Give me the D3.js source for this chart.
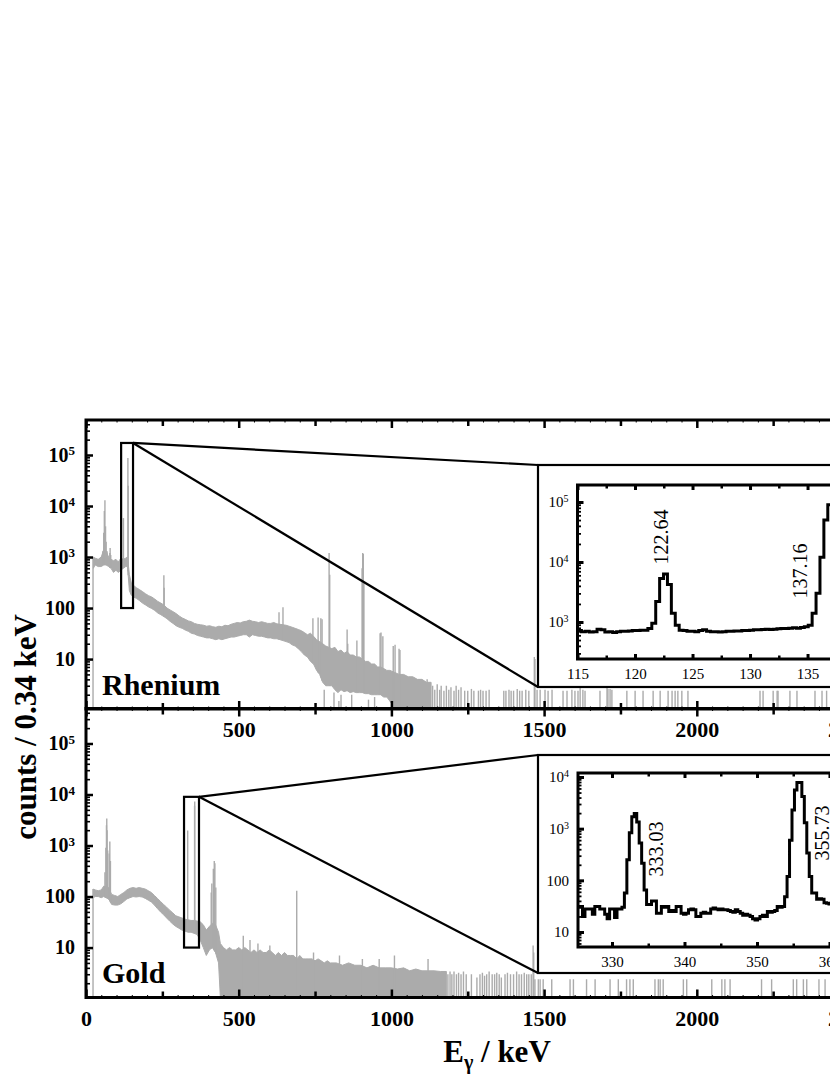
<!DOCTYPE html>
<html><head><meta charset="utf-8">
<script src="https://cdn.jsdelivr.net/npm/d3@7"></script>
<style>
html,body{margin:0;padding:0;background:#fff;}
svg{display:block;overflow:hidden;}
</style></head><body>
<svg id="chart" width="830" height="1075"></svg>
<script>
// ================= DATA =================
const energyTicks = [0, 500, 1000, 1500, 2000, 2500];
const decadeTicks = [10, 100, 1000, 1e4, 1e5];

// Rhenium spectrum: continuum envelope (keV, upper counts, lower counts)
const reBandE = [24,30,40,50,58,66,74,82,90,98,106,114,122,130,136,142,148,155,165,175,185,195,205,215,225,235,245,255,265,275,285,295,305,315,325,335,345,355,365,375,385,395,405,415,425,435,445,455,465,475,485,495,505,515,525,535,545,555,565,575,585,595,605,615,625,635,645,655,665,675,685,695,705,715,725,735,745,755,765,775,785,795,805,815,825,835,845,855,865,875,885,895,905,915,925,935,945,955,965,975,985,995,1010,1025,1040,1055,1070,1085,1100,1115,1130];
const reBandHi = [1000,950,900,1000,1400,1300,1000,900,850,900,800,950,900,950,1000,450,320,280,250,230,210,190,175,165,150,135,125,115,100,92,85,78,70,64,60,56,54,50,48,47,46,44,45,43,42,44,43,46,45,48,50,52,51,54,55,58,55,54,52,54,52,50,50,52,49,48,47,46,44,42,40,38,36,33,30,32,28,24,22,20,18,17,16,17,14,15,13,14,12,12,11,11,10,9,9,8,8,7,7,6.5,6,6,5.5,5,5,4.5,4.5,4,4,3.5,3.5];
const reBandLo = [600,700,650,650,700,700,650,600,500,550,500,550,600,650,650,220,180,165,155,140,125,115,105,98,90,80,74,68,62,55,50,45,42,40,37,35,32,31,29,28,27,26,26,25,24,25,24,25,26,27,27,28,29,30,30,27,30,29,28,28,27,26,26,25,25,24,23,22,21,19,18,16,14,12,11,9,8,6,5,3.5,3,3,3,2.5,2.2,2.5,2.3,2.4,2.2,2.3,2.2,2.2,2.2,2.1,2.1,2,2,2,2,1.8,1.8,1.5,1.1,1.1,1.1,1.1,1.1,1.1,1.1,1.1,1.1];
// Rhenium spectrum: lines and single channels (keV, counts)
const reSpikes = [[23,950],[55,1300],[58,3000],[60,8000],[62,13000],[64,4000],[66,2000],[69,1300],[78,1200],[79,1500],[81,1100],
 [122.6,5800],[137.2,87000],[138.2,25000],[255,440],[256,250],
 [632,83],[645,104],[743,63],[760,65],[769,63],[773,60],
 [780,2.5],[790,3],[796,1200],[798,450],[812,2.2],[828,1.5],[835,2],[855,38],[857,20],[870,2],[887,23],
 [904,600],[906,1200],[908,1150],[910,300],[925,1.6],[945,1.8],[963,32],[966,33],[972,28],
 [1006,18],[1012,19],[1025,16],[1028,15],[1117,4],
 [1135,3],[1142,2.5],[1150,3.2],[1158,2.5],[1163,3],[1172,2.4],[1180,3],[1188,2.5],[1195,2.8],[1205,2.4],[1212,3],[1220,2.5],[1228,2.8],
 [1240,2.4],[1250,2.4],[1262,2.6],[1270,2.4],[1285,2.4],[1292,2.5],[1300,2.4],[1310,2.4],[1320,2.5],
 [1368,2.4],[1375,2.4],[1385,2.5],[1392,2.4],[1400,2.4],[1412,2.6],[1420,2.4],[1428,2.4],[1440,2.5],[1450,2.4],
 [1468,11],[1470,10],
 [1477,2.5],[1487,2.5],[1503,2.5],[1513,2.4],[1526,2.5],[1562,2.4],[1575,2.4],[1591,2.5],[1601,2.4],[1611,2.4],[1618,2.8],[1627,2.5],[1634,2.4],[1683,2.4],[1706,2.8],[1709,2.6],[1716,2.6],[1722,2.5],[1771,2.4],[1798,2.4],[1824,2.4],[1857,2.4],[1880,2.4],[1906,2.4],[1919,2.4],[1929,2.4],[1938,2.4],[1951,2.4],[1971,2.4],[2207,2.4],[2217,2.4],[2250,2.4],[2263,2.4],[2266,2.4],[2305,2.4],[2328,2.4],[2387,2.4],[2410,2.4],[2425,2.4]];

// Gold spectrum
const auBandE = [24,30,40,50,58,74,84,94,104,114,124,134,144,154,164,174,184,194,204,214,224,234,244,254,264,274,284,294,304,314,324,334,344,354,364,374,384,394,404,414,424,434,440,450,460,470,480,490,500,510,520,530,540,550,560,570,580,590,600,610,620,630,640,650,660,670,680,690,700,710,720,730,740,750,760,770,780,790,800,820,840,860,880,900,920,940,960,980,1000,1020,1040,1060,1080,1100,1120,1140,1160,1180];
const auBandHi = [140,135,130,135,160,150,110,105,100,110,120,135,145,150,145,150,145,140,130,120,105,92,80,70,62,54,48,42,40,38,36,35,34,34,33,32,28,22,26,30,28,20,12,10,9,10,9,9,10,9,10,9,8,9,8,9,8,8,9,8,7,8,7,8,7,7,7,6,7,6,6,6,6,5.5,6,5.5,5,5.5,5,5,4.5,5,4.5,4.5,4,4.5,4,4,4,3.8,4,3.5,3.8,3.5,3.5,3.5,3.4,3.4];
const auBandLo = [95,100,100,95,100,90,70,68,68,72,80,90,95,100,98,100,98,92,85,78,68,58,50,44,38,33,29,26,24,22,21,20,20,19,18,14,10,7,9,10,8,5,1.05,1.05,1.05,1.05,1.05,1.05,1.05,1.05,1.05,1.05,1.05,1.05,1.05,1.05,1.05,1.05,1.05,1.05,1.05,1.05,1.05,1.05,1.05,1.05,1.05,1.05,1.05,1.05,1.05,1.05,1.05,1.05,1.05,1.05,1.05,1.05,1.05,1.05,1.05,1.05,1.05,1.05,1.05,1.05,1.05,1.05,1.05,1.05,1.05,1.05,1.05,1.05,1.05,1.05,1.05,1.05];
const auSpikes = [[23,140],[62,300],[65,900],[67,2500],[68,3400],[69,2000],[71,800],[76,700],[78,1200],[80,500],
 [333,1960],[355.5,6000],[356,7300],
 [410,120],[412,180],[417,350],[420,500],[422,450],[425,150],
 [515,17],[537,14],[563,12],[602,11],[690,130],[745,8],[830,7],[905,6],[960,6],[1010,7],[1120,6],
 [1185,3],[1192,3.4],[1198,3],[1205,3.4],[1213,3],[1220,3.2],[1228,3],[1236,3.4],[1245,3],[1262,3],[1280,2.6],[1290,3],[1298,3.2],[1305,2.8],[1312,3],[1320,3.4],[1330,3],[1338,3],[1345,3.2],[1353,3],[1360,2.6],[1372,3],[1380,3.2],[1390,3],[1400,3],[1410,3.4],[1418,3],[1426,3],[1435,3.2],[1443,3],[1450,3],[1458,3],
 [1464,11],[1466,8],
 [1470,2.4],[1481,2.4],[1487,2.4],[1497,2.4],[1525,2.4],[1585,2.4],[1596,2.4],[1639,2.4],[1667,2.4],[1716,2.4],[1743,2.4],[1770,2.4],[1781,2.4],[1792,2.4],[1863,2.4],[1874,2.4],[1880,2.4],[1890,2.4],[1956,2.4],[1967,2.4],[2049,2.4],[2082,2.4],[2092,2.4],[2109,2.4],[2212,2.4],[2245,2.4],[2316,2.4],[2327,2.4],[2349,2.4],[2360,2.4],[2400,2.4],[2420,2.4]];

// Zoomed regions (keV range, counts range)
const reZoomE = [115, 154], reZoomC = [100, 1.72e5];
const auZoomE = [321, 370], auZoomC = [10, 9000];

// Insets: histograms with 0.34 keV bins
const binWidth = 0.34;
const reInsetStart = 115.0;
const reInsetCounts = [720,690,700,680,690,760,740,680,690,670,690,700,700,710,720,720,730,730,780,950,2200,5300,6300,4200,1400,880,730,720,700,700,690,720,740,700,690,690,680,690,700,700,710,710,720,720,730,740,740,750,760,750,760,770,780,780,790,800,790,810,830,880,1400,3000,12000,50000,90000,130000,140000,90000];
const auInsetStart = 325.25;
const auInsetCounts = [31,31,20,28,28,28,22,31,31,28,28,22,18,28,28,19,28,28,30,57,250,830,1700,1960,1350,530,215,65,34,34,40,40,23,23,31,30,31,25,26,25,31,31,23,22,23,27,28,27,20,20,23,24,23,23,28,29,28,27,28,27,27,26,25,24,27,25,23,21,22,21,20,18,17,18,20,21,20,25,24,25,26,31,30,31,48,118,600,2300,5600,7800,7800,4200,1300,340,118,57,57,43,44,43,37,36,35,37,38,36,35,34,36,35,34];
const reInsetXTicks = [115,120,125,130,135];
const auInsetXTicks = [330,340,350,360];
const reInsetYTicks = [1e3,1e4,1e5];
const auInsetYTicks = [10,100,1e3,1e4];
const rePeakLabels = ["122.64","137.16"];
const auPeakLabels = ["333.03","355.73"];

// ================= LAYOUT =================
const FONT = '"Liberation Serif","Times New Roman","DejaVu Serif",serif';
const GRAY = "#ababab";
const L = {left: 86, pxPerKeV: 0.3054, eMax: 2700, yDomain: [1.05, 4.85e5]};
const panels = [
  {name:"Rhenium", y0:420, y1:709, bandE:reBandE, bandHi:reBandHi, bandLo:reBandLo, spikes:reSpikes,
   zoomE:reZoomE, zoomC:reZoomC, labelTicks:energyTicks.filter(d=>d>0), nameY:695,
   inset:{ox:538, oy:465, ow:420, oh:222, x0:577.5, x1:870, y0:485, y1:659, xDom:[115,140.43], yDom:[241.7,1.92e5],
           start:reInsetStart, counts:reInsetCounts, xTicks:reInsetXTicks, minorStep:2.5, yTicks:reInsetYTicks,
           labels:rePeakLabels, labelPos:[[668,537],[807,571]]}},
  {name:"Gold", y0:708.5, y1:997.5, bandE:auBandE, bandHi:auBandHi, bandLo:auBandLo, spikes:auSpikes,
   zoomE:auZoomE, zoomC:auZoomC, labelTicks:energyTicks, nameY:983,
   inset:{ox:538, oy:755, ow:420, oh:218, x0:578, x1:870, y0:773, y1:947, xDom:[325.31,365.59], yDom:[5.126,11950],
           start:auInsetStart, counts:auInsetCounts, xTicks:auInsetXTicks, minorStep:5, yTicks:auInsetYTicks,
           labels:auPeakLabels, labelPos:[[663,849],[829,833]]}}
];

// ================= DRAW =================
const svg = d3.select("#chart");
const defs = svg.append("defs");
const xMain = d3.scaleLinear().domain([0, L.eMax]).range([L.left, L.left + L.pxPerKeV * L.eMax]);

function styleAxis(g, size, weight) {
  g.select(".domain").remove();
  g.attr("font-family", FONT).attr("font-size", size).attr("font-weight", weight);
  g.selectAll(".tick text").attr("fill", "#000");
  g.selectAll(".tick line").attr("stroke", "#000");
  return g;
}
function powLabels(g, supSize, supDy) {
  g.selectAll(".tick text").each(function(d){
    const t = d3.select(this);
    const k = Math.round(Math.log10(d));
    t.text(null);
    if (k >= 3) {
      t.append("tspan").text("10");
      t.append("tspan").attr("dy", supDy).attr("font-size", supSize).text(k);
    } else t.text(String(Math.round(d)));
  });
}
function addAxis(parent, axis, tx, ty, width) {
  const g = parent.append("g").attr("transform", `translate(${tx},${ty})`).call(axis);
  styleAxis(g, 10, "normal");
  g.selectAll(".tick line").attr("stroke-width", width);
  return g;
}

const majorE = d3.range(0, L.eMax + 1, 500);
const midE = d3.range(250, L.eMax + 1, 500);
const minorE = d3.range(0, L.eMax + 1, 50).filter(d => d % 250 !== 0);

panels.forEach((p, i) => {
  const y = d3.scaleLog().domain(L.yDomain).range([p.y1, p.y0]);
  const clipId = "clipMain" + i;
  defs.append("clipPath").attr("id", clipId).append("rect")
    .attr("x", L.left).attr("y", p.y0).attr("width", xMain.range()[1] - L.left).attr("height", p.y1 - p.y0);
  const g = svg.append("g").attr("clip-path", `url(#${clipId})`);
  const band = p.bandE.map((e, j) => ({e, hi: p.bandHi[j], lo: p.bandLo[j]}));
  g.append("path").datum(band)
    .attr("d", d3.area().x(d => xMain(d.e)).y0(d => y(d.lo)).y1(d => y(d.hi)))
    .attr("fill", GRAY).attr("stroke", GRAY).attr("stroke-width", 1);
  // lower edge of the continuum at a given energy (for the foot of each line)
  const loAt = e => {
    const E = p.bandE, n = E.length;
    if (e < E[0] || e > E[n - 1]) return L.yDomain[0];
    const j = Math.max(1, d3.bisectLeft(E, e));
    const t = (e - E[j - 1]) / (E[j] - E[j - 1]);
    return Math.exp(Math.log(p.bandLo[j - 1]) + t * (Math.log(p.bandLo[j]) - Math.log(p.bandLo[j - 1])));
  };
  g.selectAll("line.spike").data(p.spikes).join("line").attr("class", "spike")
    .attr("x1", d => xMain(d[0])).attr("x2", d => xMain(d[0]))
    .attr("y1", d => { const lo = loAt(d[0]); return y(d[1] > lo ? lo : L.yDomain[0]); })
    .attr("y2", d => y(d[1]))
    .attr("stroke", GRAY).attr("stroke-width", 1.4);

  // frame
  svg.append("rect").attr("x", L.left).attr("y", p.y0).attr("width", xMain.range()[1] - L.left).attr("height", p.y1 - p.y0)
    .attr("fill", "none").attr("stroke", "#000").attr("stroke-width", 3);

  // x ticks top & bottom (inward)
  [[d3.axisTop, p.y0], [d3.axisBottom, p.y1]].forEach(([ax, yy]) => {
    addAxis(svg, ax(xMain).tickValues(majorE).tickSize(-8).tickFormat(""), 0, yy, 2.5);
    addAxis(svg, ax(xMain).tickValues(midE).tickSize(-6).tickFormat(""), 0, yy, 2.5);
    addAxis(svg, ax(xMain).tickValues(minorE).tickSize(-2.5).tickFormat(""), 0, yy, 1);
  });
  // x tick labels
  const lab = svg.append("g").attr("transform", `translate(0,${p.y1})`)
    .call(d3.axisBottom(xMain).tickValues(p.labelTicks).tickSize(0).tickPadding(12.5).tickFormat(d3.format("d")));
  styleAxis(lab, 22, "bold");

  // y ticks
  const decY = y.ticks().filter(v => Math.abs(Math.log10(v) - Math.round(Math.log10(v))) < 1e-9 && v >= 10);
  const minY = y.ticks().filter(v => !decY.includes(v) && v > 1);
  addAxis(svg, d3.axisLeft(y).tickValues(minY).tickSize(-4).tickFormat(""), L.left, 0, 1.6);
  const yl = svg.append("g").attr("transform", `translate(${L.left},0)`)
    .call(d3.axisLeft(y).tickValues(decadeTicks).tickSize(-7).tickPadding(11));
  styleAxis(yl, 20, "bold");
  yl.selectAll(".tick line").attr("stroke-width", 2.5);
  powLabels(yl, 13, "-0.5em");

  // panel name
  svg.append("text").attr("x", 102).attr("y", p.nameY).attr("font-family", FONT)
    .attr("font-weight", "bold").attr("font-size", 30).text(p.name);

  // zoom box
  const bx0 = xMain(p.zoomE[0]), bx1 = xMain(p.zoomE[1]), by0 = y(p.zoomC[1]), by1 = y(p.zoomC[0]);
  svg.append("rect").attr("x", bx0).attr("y", by0).attr("width", bx1 - bx0).attr("height", by1 - by0)
    .attr("fill", "none").attr("stroke", "#000").attr("stroke-width", 2.2);
  const ins = p.inset;
  [[ins.ox, ins.oy], [ins.ox, ins.oy + ins.oh]].forEach(([tx, ty]) => {
    svg.append("line").attr("x1", bx1).attr("y1", by0).attr("x2", tx).attr("y2", ty)
      .attr("stroke", "#000").attr("stroke-width", 2.2);
  });

  // inset
  svg.append("rect").attr("x", ins.ox).attr("y", ins.oy).attr("width", ins.ow).attr("height", ins.oh)
    .attr("fill", "#fff").attr("stroke", "#000").attr("stroke-width", 2.2);
  const xi = d3.scaleLinear().domain(ins.xDom).range([ins.x0, ins.x1]);
  const yi = d3.scaleLog().domain(ins.yDom).range([ins.y1, ins.y0]);
  const icId = "clipInset" + i;
  defs.append("clipPath").attr("id", icId).append("rect")
    .attr("x", ins.x0).attr("y", ins.y0).attr("width", ins.x1 - ins.x0).attr("height", ins.y1 - ins.y0);
  const pts = ins.counts.map((c, j) => [ins.start + j * binWidth, c]);
  pts.push([ins.start + ins.counts.length * binWidth, ins.counts[ins.counts.length - 1]]);
  svg.append("g").attr("clip-path", `url(#${icId})`).append("path").datum(pts)
    .attr("d", d3.line().x(d => xi(d[0])).y(d => yi(d[1])).curve(d3.curveStepAfter))
    .attr("fill", "none").attr("stroke", "#000").attr("stroke-width", 3).attr("stroke-linejoin", "miter");
  svg.append("rect").attr("x", ins.x0).attr("y", ins.y0).attr("width", ins.x1 - ins.x0).attr("height", ins.y1 - ins.y0)
    .attr("fill", "none").attr("stroke", "#000").attr("stroke-width", 3);
  const majX = d3.range(Math.ceil(ins.xDom[0] / ins.minorStep) * ins.minorStep, ins.xDom[1], ins.minorStep);
  [[d3.axisTop, ins.y0], [d3.axisBottom, ins.y1]].forEach(([ax, yy]) => {
    addAxis(svg, ax(xi).tickValues(majX.filter(v => ins.xTicks.includes(v))).tickSize(-5).tickFormat(""), 0, yy, 3);
    addAxis(svg, ax(xi).tickValues(majX.filter(v => !ins.xTicks.includes(v))).tickSize(-3.5).tickFormat(""), 0, yy, 2.5);
  });
  const ixl = svg.append("g").attr("transform", `translate(0,${ins.y1})`)
    .call(d3.axisBottom(xi).tickValues(ins.xTicks).tickSize(0).tickPadding(9.5).tickFormat(d3.format("d")));
  styleAxis(ixl, 15, "normal");
  const iMin = yi.ticks().filter(v => !ins.yTicks.includes(v) && Math.abs(Math.log10(v) - Math.round(Math.log10(v))) > 1e-9);
  addAxis(svg, d3.axisLeft(yi).tickValues(iMin).tickSize(-3.5).tickFormat(""), ins.x0, 0, 1.8);
  const iyl = svg.append("g").attr("transform", `translate(${ins.x0},0)`)
    .call(d3.axisLeft(yi).tickValues(ins.yTicks).tickSize(-6).tickPadding(9));
  styleAxis(iyl, 15, "normal");
  iyl.selectAll(".tick line").attr("stroke-width", 3);
  powLabels(iyl, 10, "-0.5em");
  ins.labels.forEach((t, j) => {
    svg.append("text").attr("transform", `translate(${ins.labelPos[j][0]},${ins.labelPos[j][1]}) rotate(-90)`)
      .attr("text-anchor", "middle").attr("font-family", FONT).attr("font-size", 20).text(t);
  });
});

// axis titles
svg.append("text").attr("transform", "translate(36,727) rotate(-90)").attr("text-anchor", "middle")
  .attr("font-family", FONT).attr("font-weight", "bold").attr("font-size", 31).text("counts / 0.34 keV");
const xt = svg.append("text").attr("x", 497).attr("y", 1062).attr("text-anchor", "middle")
  .attr("font-family", FONT).attr("font-weight", "bold").attr("font-size", 31);
xt.append("tspan").text("E");
xt.append("tspan").attr("font-size", 20).attr("dy", 7).text("γ");
xt.append("tspan").attr("dy", -7).text(" / keV");
</script></body></html>
